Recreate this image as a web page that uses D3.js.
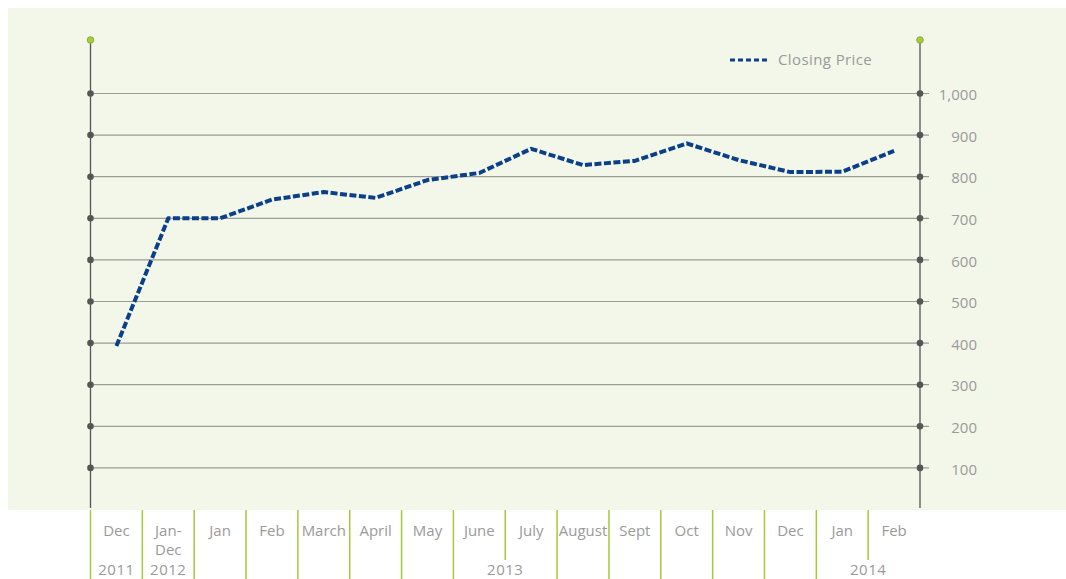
<!DOCTYPE html>
<html>
<head>
<meta charset="utf-8">
<script src="https://cdn.jsdelivr.net/npm/d3@7/dist/d3.min.js"></script>
<style>
  html, body { margin: 0; padding: 0; background: #fff; }
  svg { display: block; font-family: "Open Sans", "Noto Sans", sans-serif; }
</style>
</head>
<body>
<div id="chart"></div>
<script>
// Data
const months = ["Dec", "Jan-Dec", "Jan", "Feb", "March", "April", "May", "June",
                "July", "August", "Sept", "Oct", "Nov", "Dec", "Jan", "Feb"];
const closingPrice = [393, 700, 700, 745, 763, 749, 792, 809,
                      867, 828, 838, 880, 840, 811, 812, 862];
const years = ["2011", "2012", "2013", "2014"];
const yearStart = [0, 1, 2, 14];   // first month index of each year
const yearEnd = [1, 2, 14, 16];    // exclusive
const yTicks = [100, 200, 300, 400, 500, 600, 700, 800, 900, 1000];
const seriesName = "Closing Price";

// Dimensions
const width = 1066;
const height = 579;
const plotLeft = 90.5;
const plotRight = 920;
const bgBottom = 510;
const axisTop = 40;

const lineColor = "#0a3f8a";
const textColor = "#9a9a9a";
const green = "#a5c83a";

const svg = d3.select("#chart").append("svg")
  .attr("width", width)
  .attr("height", height);

// Scales
const x = d3.scaleBand().domain(d3.range(months.length)).range([plotLeft, plotRight]);
const y = d3.scaleLinear().domain([0, 1000]).range([509.5, 93.5]);
const cx = (i) => x(i) + x.bandwidth() / 2;

// Background
svg.append("rect")
  .attr("x", 8).attr("y", 8)
  .attr("width", width - 8).attr("height", bgBottom - 8)
  .attr("fill", "#f3f7e9");

// Gridlines
svg.append("g").selectAll("line")
  .data(yTicks)
  .join("line")
  .attr("x1", plotLeft).attr("x2", plotRight + 9)
  .attr("y1", (d) => y(d)).attr("y2", (d) => y(d))
  .attr("stroke", "#9c9c96")
  .attr("stroke-width", 1.2);

// Vertical axes
[plotLeft, plotRight].forEach((ax) => {
  svg.append("line")
    .attr("x1", ax).attr("x2", ax)
    .attr("y1", axisTop).attr("y2", bgBottom - 2)
    .attr("stroke", "#555")
    .attr("stroke-width", 1.3);

  svg.append("g").selectAll("circle")
    .data(yTicks)
    .join("circle")
    .attr("cx", ax).attr("cy", (d) => y(d))
    .attr("r", 3.3)
    .attr("fill", "#555");

  svg.append("circle")
    .attr("cx", ax).attr("cy", axisTop)
    .attr("r", 3.3)
    .attr("fill", "#a8cc3c")
    .attr("stroke", "#7f9e2a")
    .attr("stroke-width", 0.8);
});

// Right tick labels
svg.append("g").selectAll("text")
  .data(yTicks)
  .join("text")
  .attr("x", 977)
  .attr("y", (d) => y(d) + 1.5)
  .attr("dy", "0.35em")
  .attr("text-anchor", "end")
  .attr("font-size", "15px")
  .attr("fill", textColor)
  .text((d) => d3.format(",")(d));

// Line
const line = d3.line()
  .x((d, i) => cx(i))
  .y((d) => y(d))
  .curve(d3.curveLinear);

svg.append("path")
  .datum(closingPrice)
  .attr("d", line)
  .attr("fill", "none")
  .attr("stroke", lineColor)
  .attr("stroke-width", 4)
  .attr("stroke-dasharray", "7,2.5")
  .attr("stroke-linejoin", "round");

// Legend
const legend = svg.append("g").attr("transform", "translate(730,60)");
legend.append("line")
  .attr("x1", 0).attr("x2", 40)
  .attr("stroke", lineColor)
  .attr("stroke-width", 3)
  .attr("stroke-dasharray", "5,3");
legend.append("text")
  .attr("x", 48).attr("y", 0)
  .attr("dy", "0.35em")
  .attr("font-size", "15px")
  .attr("letter-spacing", "0.4px")
  .attr("fill", textColor)
  .text(seriesName);

// Month labels
const monthLabels = svg.append("g").selectAll("text")
  .data(months)
  .join("text")
  .attr("x", (d, i) => cx(i))
  .attr("y", 536)
  .attr("text-anchor", "middle")
  .attr("font-size", "15px")
  .attr("fill", textColor);

monthLabels.each(function (d, i) {
  const parts = d === "Jan-Dec" ? ["Jan-", "Dec"] : [d];
  d3.select(this).selectAll("tspan")
    .data(parts)
    .join("tspan")
    .attr("x", cx(i))
    .attr("dy", (p, k) => (k === 0 ? 0 : 19))
    .text((p) => p);
});

// Year labels
const yearCenter = (k) => (x(yearStart[k]) + x(yearEnd[k] - 1) + x.bandwidth()) / 2;
svg.append("g").selectAll("text")
  .data(years)
  .join("text")
  .attr("x", (d, k) => yearCenter(k))
  .attr("y", 575)
  .attr("text-anchor", "middle")
  .attr("font-size", "15px")
  .attr("letter-spacing", "0.5px")
  .attr("fill", textColor)
  .text((d) => d);

// Separators below the plot
const edges = d3.range(months.length).map((i) => x(i));
svg.append("g").selectAll("line")
  .data(edges)
  .join("line")
  .attr("x1", (d) => d).attr("x2", (d) => d)
  .attr("y1", bgBottom)
  .attr("y2", (d) => {
    const underYear = years.some((yr, k) =>
      yearEnd[k] - yearStart[k] > 1 && Math.abs(yearCenter(k) - d) < 25);
    return underYear ? 560 : height;
  })
  .attr("stroke", green)
  .attr("stroke-width", 1.5);
</script>
</body>
</html>
